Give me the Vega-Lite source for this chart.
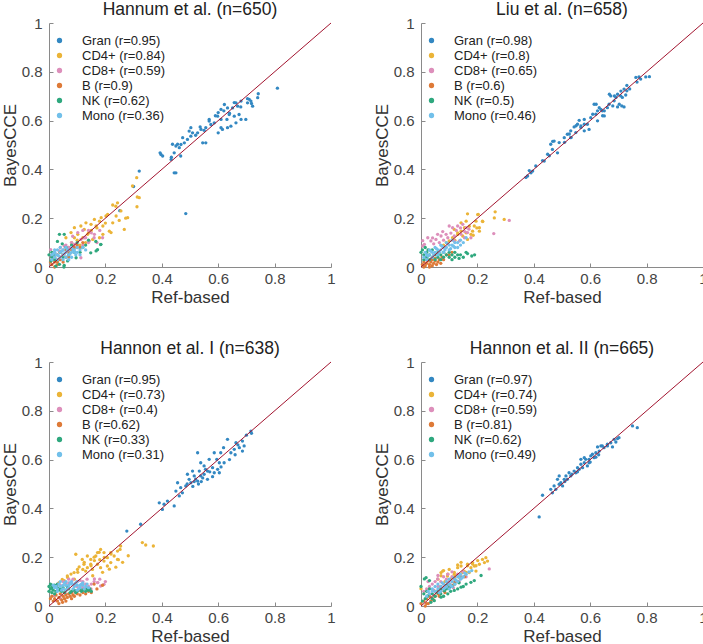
{
"$schema":"https://vega.github.io/schema/vega-lite/v6.json",
"padding":{"left":1,"top":0,"right":0,"bottom":0},
"background":"white",
"config":{"font":"Liberation Sans","view":{"stroke":null},
"axis":{"domainColor":"#8a8a8a","tickColor":"#8a8a8a","tickSize":-4,"grid":false,"labelFontSize":15,"labelColor":"#444444","titleFontSize":17,"titleFontWeight":"normal","titleColor":"#333333","labelFlush":false,"labelOverlap":false},
"legend":{"labelFontSize":13,"labelOffset":16,"symbolSize":28,"rowPadding":1,"labelColor":"#222222","symbolType":"circle","symbolStrokeWidth":0,"padding":0},
"title":{"fontSize":17.5,"fontWeight":"normal","color":"#222222","offset":-2}},
"datasets":{
"p1":[
{"t":"Gran","x":0.81,"y":0.733},{"t":"Gran","x":0.742,"y":0.71},{"t":"Gran","x":0.74,"y":0.694},{"t":"Gran","x":0.718,"y":0.67},{"t":"Gran","x":0.722,"y":0.659},{"t":"Gran","x":0.704,"y":0.69},{"t":"Gran","x":0.71,"y":0.687},{"t":"Gran","x":0.704,"y":0.673},{"t":"Gran","x":0.68,"y":0.656},{"t":"Gran","x":0.681,"y":0.68},{"t":"Gran","x":0.663,"y":0.673},{"t":"Gran","x":0.657,"y":0.674},{"t":"Gran","x":0.651,"y":0.652},{"t":"Gran","x":0.633,"y":0.652},{"t":"Gran","x":0.622,"y":0.666},{"t":"Gran","x":0.61,"y":0.646},{"t":"Gran","x":0.639,"y":0.625},{"t":"Gran","x":0.657,"y":0.618},{"t":"Gran","x":0.674,"y":0.625},{"t":"Gran","x":0.681,"y":0.605},{"t":"Gran","x":0.663,"y":0.591},{"t":"Gran","x":0.631,"y":0.605},{"t":"Gran","x":0.61,"y":0.605},{"t":"Gran","x":0.598,"y":0.618},{"t":"Gran","x":0.6,"y":0.633},{"t":"Gran","x":0.586,"y":0.591},{"t":"Gran","x":0.574,"y":0.584},{"t":"Gran","x":0.568,"y":0.598},{"t":"Gran","x":0.568,"y":0.605},{"t":"Gran","x":0.556,"y":0.571},{"t":"Gran","x":0.539,"y":0.564},{"t":"Gran","x":0.536,"y":0.574},{"t":"Gran","x":0.527,"y":0.55},{"t":"Gran","x":0.509,"y":0.55},{"t":"Gran","x":0.503,"y":0.571},{"t":"Gran","x":0.497,"y":0.557},{"t":"Gran","x":0.503,"y":0.536},{"t":"Gran","x":0.491,"y":0.523},{"t":"Gran","x":0.474,"y":0.53},{"t":"Gran","x":0.468,"y":0.502},{"t":"Gran","x":0.48,"y":0.509},{"t":"Gran","x":0.462,"y":0.489},{"t":"Gran","x":0.45,"y":0.496},{"t":"Gran","x":0.456,"y":0.503},{"t":"Gran","x":0.438,"y":0.503},{"t":"Gran","x":0.444,"y":0.468},{"t":"Gran","x":0.433,"y":0.441},{"t":"Gran","x":0.434,"y":0.45},{"t":"Gran","x":0.467,"y":0.455},{"t":"Gran","x":0.397,"y":0.461},{"t":"Gran","x":0.403,"y":0.455},{"t":"Gran","x":0.394,"y":0.468},{"t":"Gran","x":0.545,"y":0.509},{"t":"Gran","x":0.556,"y":0.509},{"t":"Gran","x":0.61,"y":0.571},{"t":"Gran","x":0.615,"y":0.564},{"t":"Gran","x":0.633,"y":0.571},{"t":"Gran","x":0.645,"y":0.577},{"t":"Gran","x":0.698,"y":0.605},{"t":"Gran","x":0.716,"y":0.68},{"t":"Gran","x":0.669,"y":0.659},{"t":"Gran","x":0.6,"y":0.55},{"t":"Gran","x":0.444,"y":0.386},{"t":"Gran","x":0.45,"y":0.386},{"t":"Gran","x":0.485,"y":0.219},{"t":"Gran","x":0.32,"y":0.393},{"t":"Gran","x":0.3,"y":0.33},{"t":"Gran","x":0.251,"y":0.231},{"t":"Gran","x":0.59,"y":0.62},{"t":"Gran","x":0.62,"y":0.64},{"t":"Gran","x":0.64,"y":0.63},{"t":"Gran","x":0.52,"y":0.54},{"t":"Gran","x":0.55,"y":0.56},
{"t":"CD4+","x":0.312,"y":0.247},{"t":"CD4+","x":0.226,"y":0.254},{"t":"CD4+","x":0.255,"y":0.23},{"t":"CD4+","x":0.202,"y":0.209},{"t":"CD4+","x":0.179,"y":0.188},{"t":"CD4+","x":0.149,"y":0.175},{"t":"CD4+","x":0.226,"y":0.181},{"t":"CD4+","x":0.249,"y":0.191},{"t":"CD4+","x":0.279,"y":0.202},{"t":"CD4+","x":0.267,"y":0.154},{"t":"CD4+","x":0.214,"y":0.147},{"t":"CD4+","x":0.191,"y":0.134},{"t":"CD4+","x":0.167,"y":0.168},{"t":"CD4+","x":0.125,"y":0.154},{"t":"CD4+","x":0.102,"y":0.134},{"t":"CD4+","x":0.09,"y":0.161},{"t":"CD4+","x":0.137,"y":0.134},{"t":"CD4+","x":0.161,"y":0.195},{"t":"CD4+","x":0.238,"y":0.209},{"t":"CD4+","x":0.208,"y":0.216},{"t":"CD4+","x":0.185,"y":0.202},{"t":"CD4+","x":0.131,"y":0.181},{"t":"CD4+","x":0.113,"y":0.168},{"t":"CD4+","x":0.078,"y":0.141},{"t":"CD4+","x":0.06,"y":0.12},{"t":"CD4+","x":0.191,"y":0.168},{"t":"CD4+","x":0.22,"y":0.141},{"t":"CD4+","x":0.179,"y":0.12},{"t":"CD4+","x":0.155,"y":0.113},{"t":"CD4+","x":0.296,"y":0.332},{"t":"CD4+","x":0.311,"y":0.366},{"t":"CD4+","x":0.32,"y":0.284},{"t":"CD4+","x":0.313,"y":0.287},{"t":"CD4+","x":0.243,"y":0.263},{"t":"CD4+","x":0.237,"y":0.249},{"t":"CD4+","x":0.272,"y":0.2},{"t":"CD4+","x":0.08,"y":0.1},{"t":"CD4+","x":0.1,"y":0.11},{"t":"CD4+","x":0.12,"y":0.12},{"t":"CD4+","x":0.14,"y":0.14},{"t":"CD4+","x":0.07,"y":0.08},{"t":"CD4+","x":0.11,"y":0.09},{"t":"CD4+","x":0.15,"y":0.15},{"t":"CD4+","x":0.17,"y":0.16},{"t":"CD4+","x":0.2,"y":0.18},{"t":"CD4+","x":0.13,"y":0.1},{"t":"CD4+","x":0.09,"y":0.12},
{"t":"CD8+","x":0.113,"y":0.038},{"t":"CD8+","x":0.072,"y":0.052},{"t":"CD8+","x":0.084,"y":0.126},{"t":"CD8+","x":0.102,"y":0.141},{"t":"CD8+","x":0.125,"y":0.12},{"t":"CD8+","x":0.143,"y":0.107},{"t":"CD8+","x":0.161,"y":0.134},{"t":"CD8+","x":0.113,"y":0.113},{"t":"CD8+","x":0.09,"y":0.093},{"t":"CD8+","x":0.054,"y":0.086},{"t":"CD8+","x":0.037,"y":0.066},{"t":"CD8+","x":0.007,"y":0.045},{"t":"CD8+","x":0.066,"y":0.079},{"t":"CD8+","x":0.006,"y":0.071},{"t":"CD8+","x":0.02,"y":0.06},{"t":"CD8+","x":0.05,"y":0.07},{"t":"CD8+","x":0.06,"y":0.09},{"t":"CD8+","x":0.08,"y":0.1},{"t":"CD8+","x":0.13,"y":0.12},{"t":"CD8+","x":0.15,"y":0.14},{"t":"CD8+","x":0.16,"y":0.12},{"t":"CD8+","x":0.14,"y":0.1},{"t":"CD8+","x":0.12,"y":0.09},{"t":"CD8+","x":0.1,"y":0.08},{"t":"CD8+","x":0.07,"y":0.08},{"t":"CD8+","x":0.17,"y":0.1},{"t":"CD8+","x":0.19,"y":0.12},{"t":"CD8+","x":0.18,"y":0.15},{"t":"CD8+","x":0.12,"y":0.15},{"t":"CD8+","x":0.14,"y":0.15},{"t":"CD8+","x":0.03,"y":0.05},{"t":"CD8+","x":0.04,"y":0.08},
{"t":"B","x":0.01,"y":0.01},{"t":"B","x":0.02,"y":0.02},{"t":"B","x":0.03,"y":0.02},{"t":"B","x":0.02,"y":0.04},{"t":"B","x":0.04,"y":0.03},{"t":"B","x":0.05,"y":0.05},{"t":"B","x":0.06,"y":0.04},{"t":"B","x":0.03,"y":0.05},{"t":"B","x":0.07,"y":0.06},{"t":"B","x":0.04,"y":0.06},{"t":"B","x":0.01,"y":0.03},{"t":"B","x":0.05,"y":0.02},{"t":"B","x":0.08,"y":0.07},{"t":"B","x":0.06,"y":0.07},{"t":"B","x":0.09,"y":0.08},{"t":"B","x":0.02,"y":0.0},{"t":"B","x":0.03,"y":0.01},{"t":"B","x":0.1,"y":0.09},{"t":"B","x":0.12,"y":0.1},{"t":"B","x":0.005,"y":0.02},{"t":"B","x":0.07,"y":0.04},{"t":"B","x":0.11,"y":0.08},
{"t":"NK","x":0.184,"y":0.093},{"t":"NK","x":0.167,"y":0.066},{"t":"NK","x":0.172,"y":0.071},{"t":"NK","x":0.148,"y":0.058},{"t":"NK","x":0.166,"y":0.105},{"t":"NK","x":0.183,"y":0.092},{"t":"NK","x":0.066,"y":0.025},{"t":"NK","x":0.037,"y":0.011},{"t":"NK","x":0.007,"y":0.025},{"t":"NK","x":0.054,"y":0.007},{"t":"NK","x":0.096,"y":0.038},{"t":"NK","x":0.054,"y":0.134},{"t":"NK","x":0.037,"y":0.134},{"t":"NK","x":0.03,"y":0.105},{"t":"NK","x":0.047,"y":0.095},{"t":"NK","x":0.024,"y":0.003},{"t":"NK","x":0.053,"y":0.0},{"t":"NK","x":0.01,"y":0.04},{"t":"NK","x":0.02,"y":0.05},{"t":"NK","x":0.03,"y":0.03},{"t":"NK","x":0.04,"y":0.06},{"t":"NK","x":0.06,"y":0.08},{"t":"NK","x":0.08,"y":0.09},{"t":"NK","x":0.1,"y":0.1},{"t":"NK","x":0.12,"y":0.08},{"t":"NK","x":0.07,"y":0.05},{"t":"NK","x":0.11,"y":0.06},{"t":"NK","x":0.13,"y":0.09},{"t":"NK","x":0.09,"y":0.06},{"t":"NK","x":0.01,"y":0.06},{"t":"NK","x":0.02,"y":0.03},{"t":"NK","x":0.05,"y":0.04},{"t":"NK","x":0.14,"y":0.11},{"t":"NK","x":0.0,"y":0.05},
{"t":"Mono","x":0.01,"y":0.05},{"t":"Mono","x":0.02,"y":0.06},{"t":"Mono","x":0.02,"y":0.04},{"t":"Mono","x":0.03,"y":0.05},{"t":"Mono","x":0.03,"y":0.07},{"t":"Mono","x":0.04,"y":0.04},{"t":"Mono","x":0.04,"y":0.06},{"t":"Mono","x":0.05,"y":0.05},{"t":"Mono","x":0.05,"y":0.07},{"t":"Mono","x":0.06,"y":0.04},{"t":"Mono","x":0.06,"y":0.06},{"t":"Mono","x":0.07,"y":0.05},{"t":"Mono","x":0.07,"y":0.07},{"t":"Mono","x":0.08,"y":0.06},{"t":"Mono","x":0.08,"y":0.04},{"t":"Mono","x":0.09,"y":0.06},{"t":"Mono","x":0.09,"y":0.07},{"t":"Mono","x":0.1,"y":0.06},{"t":"Mono","x":0.1,"y":0.08},{"t":"Mono","x":0.11,"y":0.07},{"t":"Mono","x":0.12,"y":0.08},{"t":"Mono","x":0.03,"y":0.03},{"t":"Mono","x":0.05,"y":0.03},{"t":"Mono","x":0.07,"y":0.03},{"t":"Mono","x":0.01,"y":0.03},{"t":"Mono","x":0.02,"y":0.07},{"t":"Mono","x":0.04,"y":0.08},{"t":"Mono","x":0.06,"y":0.08},{"t":"Mono","x":0.08,"y":0.08},{"t":"Mono","x":0.11,"y":0.05},{"t":"Mono","x":0.13,"y":0.07},{"t":"Mono","x":0.015,"y":0.055},{"t":"Mono","x":0.035,"y":0.045},{"t":"Mono","x":0.055,"y":0.055},{"t":"Mono","x":0.075,"y":0.055},{"t":"Mono","x":0.095,"y":0.05},{"t":"Mono","x":0.045,"y":0.065},{"t":"Mono","x":0.065,"y":0.07},{"t":"Mono","x":0.085,"y":0.07},{"t":"Mono","x":0.025,"y":0.05}
],
"p2":[
{"t":"Gran","x":0.797,"y":0.779},{"t":"Gran","x":0.779,"y":0.77},{"t":"Gran","x":0.773,"y":0.779},{"t":"Gran","x":0.762,"y":0.777},{"t":"Gran","x":0.766,"y":0.758},{"t":"Gran","x":0.73,"y":0.744},{"t":"Gran","x":0.73,"y":0.722},{"t":"Gran","x":0.709,"y":0.721},{"t":"Gran","x":0.708,"y":0.701},{"t":"Gran","x":0.697,"y":0.708},{"t":"Gran","x":0.686,"y":0.701},{"t":"Gran","x":0.673,"y":0.701},{"t":"Gran","x":0.668,"y":0.708},{"t":"Gran","x":0.685,"y":0.681},{"t":"Gran","x":0.703,"y":0.667},{"t":"Gran","x":0.712,"y":0.66},{"t":"Gran","x":0.72,"y":0.656},{"t":"Gran","x":0.697,"y":0.656},{"t":"Gran","x":0.661,"y":0.653},{"t":"Gran","x":0.643,"y":0.64},{"t":"Gran","x":0.65,"y":0.619},{"t":"Gran","x":0.626,"y":0.64},{"t":"Gran","x":0.62,"y":0.626},{"t":"Gran","x":0.602,"y":0.612},{"t":"Gran","x":0.614,"y":0.667},{"t":"Gran","x":0.621,"y":0.667},{"t":"Gran","x":0.632,"y":0.653},{"t":"Gran","x":0.638,"y":0.646},{"t":"Gran","x":0.609,"y":0.626},{"t":"Gran","x":0.644,"y":0.62},{"t":"Gran","x":0.59,"y":0.585},{"t":"Gran","x":0.579,"y":0.585},{"t":"Gran","x":0.567,"y":0.578},{"t":"Gran","x":0.555,"y":0.585},{"t":"Gran","x":0.561,"y":0.601},{"t":"Gran","x":0.55,"y":0.579},{"t":"Gran","x":0.567,"y":0.572},{"t":"Gran","x":0.543,"y":0.574},{"t":"Gran","x":0.531,"y":0.558},{"t":"Gran","x":0.526,"y":0.545},{"t":"Gran","x":0.532,"y":0.531},{"t":"Gran","x":0.519,"y":0.544},{"t":"Gran","x":0.508,"y":0.53},{"t":"Gran","x":0.509,"y":0.511},{"t":"Gran","x":0.49,"y":0.51},{"t":"Gran","x":0.484,"y":0.468},{"t":"Gran","x":0.46,"y":0.503},{"t":"Gran","x":0.467,"y":0.515},{"t":"Gran","x":0.466,"y":0.482},{"t":"Gran","x":0.449,"y":0.462},{"t":"Gran","x":0.455,"y":0.456},{"t":"Gran","x":0.437,"y":0.434},{"t":"Gran","x":0.431,"y":0.436},{"t":"Gran","x":0.407,"y":0.414},{"t":"Gran","x":0.396,"y":0.393},{"t":"Gran","x":0.384,"y":0.395},{"t":"Gran","x":0.378,"y":0.373},{"t":"Gran","x":0.372,"y":0.367},{"t":"Gran","x":0.39,"y":0.386},{"t":"Gran","x":0.472,"y":0.516},{"t":"Gran","x":0.579,"y":0.558},{"t":"Gran","x":0.596,"y":0.564},{"t":"Gran","x":0.626,"y":0.599},{"t":"Gran","x":0.65,"y":0.64},{"t":"Gran","x":0.667,"y":0.667},{"t":"Gran","x":0.714,"y":0.695},{"t":"Gran","x":0.726,"y":0.705},{"t":"Gran","x":0.691,"y":0.695},{"t":"Gran","x":0.72,"y":0.729},{"t":"Gran","x":0.531,"y":0.53},{"t":"Gran","x":0.549,"y":0.551},{"t":"Gran","x":0.579,"y":0.605},{"t":"Gran","x":0.81,"y":0.78},{"t":"Gran","x":0.68,"y":0.66},{"t":"Gran","x":0.74,"y":0.73},
{"t":"CD4+","x":0.263,"y":0.226},{"t":"CD4+","x":0.295,"y":0.195},{"t":"CD4+","x":0.26,"y":0.201},{"t":"CD4+","x":0.201,"y":0.215},{"t":"CD4+","x":0.165,"y":0.218},{"t":"CD4+","x":0.218,"y":0.188},{"t":"CD4+","x":0.198,"y":0.16},{"t":"CD4+","x":0.183,"y":0.147},{"t":"CD4+","x":0.207,"y":0.147},{"t":"CD4+","x":0.171,"y":0.167},{"t":"CD4+","x":0.142,"y":0.147},{"t":"CD4+","x":0.13,"y":0.133},{"t":"CD4+","x":0.203,"y":0.216},{"t":"CD4+","x":0.219,"y":0.186},{"t":"CD4+","x":0.189,"y":0.168},{"t":"CD4+","x":0.207,"y":0.161},{"t":"CD4+","x":0.154,"y":0.161},{"t":"CD4+","x":0.142,"y":0.181},{"t":"CD4+","x":0.16,"y":0.188},{"t":"CD4+","x":0.13,"y":0.14},{"t":"CD4+","x":0.118,"y":0.154},{"t":"CD4+","x":0.148,"y":0.127},{"t":"CD4+","x":0.177,"y":0.134},{"t":"CD4+","x":0.165,"y":0.113},{"t":"CD4+","x":0.112,"y":0.12},{"t":"CD4+","x":0.1,"y":0.107},{"t":"CD4+","x":0.195,"y":0.188},{"t":"CD4+","x":0.09,"y":0.1},{"t":"CD4+","x":0.08,"y":0.09},{"t":"CD4+","x":0.12,"y":0.11},{"t":"CD4+","x":0.16,"y":0.14},{"t":"CD4+","x":0.185,"y":0.13},
{"t":"CD8+","x":0.313,"y":0.191},{"t":"CD8+","x":0.258,"y":0.137},{"t":"CD8+","x":0.1,"y":0.168},{"t":"CD8+","x":0.112,"y":0.161},{"t":"CD8+","x":0.089,"y":0.134},{"t":"CD8+","x":0.071,"y":0.127},{"t":"CD8+","x":0.053,"y":0.113},{"t":"CD8+","x":0.035,"y":0.107},{"t":"CD8+","x":0.012,"y":0.093},{"t":"CD8+","x":0.006,"y":0.086},{"t":"CD8+","x":0.142,"y":0.134},{"t":"CD8+","x":0.154,"y":0.12},{"t":"CD8+","x":0.136,"y":0.107},{"t":"CD8+","x":0.118,"y":0.127},{"t":"CD8+","x":0.165,"y":0.141},{"t":"CD8+","x":0.177,"y":0.12},{"t":"CD8+","x":0.106,"y":0.139},{"t":"CD8+","x":0.077,"y":0.145},{"t":"CD8+","x":0.095,"y":0.12},{"t":"CD8+","x":0.059,"y":0.134},{"t":"CD8+","x":0.024,"y":0.12},{"t":"CD8+","x":0.118,"y":0.107},{"t":"CD8+","x":0.16,"y":0.161},{"t":"CD8+","x":0.148,"y":0.175},{"t":"CD8+","x":0.13,"y":0.168},{"t":"CD8+","x":0.006,"y":0.108},{"t":"CD8+","x":0.041,"y":0.119},{"t":"CD8+","x":0.125,"y":0.15},{"t":"CD8+","x":0.14,"y":0.16},{"t":"CD8+","x":0.155,"y":0.145},{"t":"CD8+","x":0.17,"y":0.155},{"t":"CD8+","x":0.08,"y":0.11},{"t":"CD8+","x":0.065,"y":0.1},{"t":"CD8+","x":0.045,"y":0.095},
{"t":"B","x":0.005,"y":0.01},{"t":"B","x":0.01,"y":0.02},{"t":"B","x":0.015,"y":0.005},{"t":"B","x":0.02,"y":0.015},{"t":"B","x":0.025,"y":0.025},{"t":"B","x":0.03,"y":0.01},{"t":"B","x":0.035,"y":0.02},{"t":"B","x":0.04,"y":0.005},{"t":"B","x":0.045,"y":0.015},{"t":"B","x":0.05,"y":0.025},{"t":"B","x":0.055,"y":0.01},{"t":"B","x":0.06,"y":0.02},{"t":"B","x":0.03,"y":0.0},{"t":"B","x":0.02,"y":0.03},{"t":"B","x":0.04,"y":0.03},{"t":"B","x":0.065,"y":0.03},{"t":"B","x":0.07,"y":0.015},{"t":"B","x":0.01,"y":0.0},{"t":"B","x":0.05,"y":0.035},{"t":"B","x":0.075,"y":0.04},{"t":"B","x":0.08,"y":0.03},{"t":"B","x":0.1,"y":0.05},{"t":"B","x":0.09,"y":0.05},{"t":"B","x":0.11,"y":0.06},
{"t":"NK","x":0.0,"y":0.06},{"t":"NK","x":0.005,"y":0.07},{"t":"NK","x":0.01,"y":0.05},{"t":"NK","x":0.01,"y":0.03},{"t":"NK","x":0.02,"y":0.06},{"t":"NK","x":0.02,"y":0.04},{"t":"NK","x":0.03,"y":0.05},{"t":"NK","x":0.03,"y":0.03},{"t":"NK","x":0.04,"y":0.04},{"t":"NK","x":0.05,"y":0.05},{"t":"NK","x":0.05,"y":0.03},{"t":"NK","x":0.06,"y":0.04},{"t":"NK","x":0.07,"y":0.05},{"t":"NK","x":0.08,"y":0.04},{"t":"NK","x":0.09,"y":0.05},{"t":"NK","x":0.1,"y":0.04},{"t":"NK","x":0.11,"y":0.05},{"t":"NK","x":0.12,"y":0.04},{"t":"NK","x":0.13,"y":0.05},{"t":"NK","x":0.14,"y":0.05},{"t":"NK","x":0.15,"y":0.04},{"t":"NK","x":0.16,"y":0.06},{"t":"NK","x":0.165,"y":0.055},{"t":"NK","x":0.18,"y":0.045},{"t":"NK","x":0.19,"y":0.05},{"t":"NK","x":0.06,"y":0.06},{"t":"NK","x":0.08,"y":0.06},{"t":"NK","x":0.1,"y":0.06},{"t":"NK","x":0.12,"y":0.06},{"t":"NK","x":0.015,"y":0.08},{"t":"NK","x":0.025,"y":0.07},{"t":"NK","x":0.04,"y":0.07},{"t":"NK","x":0.07,"y":0.03},{"t":"NK","x":0.11,"y":0.03},{"t":"NK","x":0.135,"y":0.035},
{"t":"Mono","x":0.01,"y":0.04},{"t":"Mono","x":0.02,"y":0.05},{"t":"Mono","x":0.03,"y":0.05},{"t":"Mono","x":0.04,"y":0.06},{"t":"Mono","x":0.05,"y":0.06},{"t":"Mono","x":0.06,"y":0.07},{"t":"Mono","x":0.07,"y":0.07},{"t":"Mono","x":0.08,"y":0.08},{"t":"Mono","x":0.09,"y":0.08},{"t":"Mono","x":0.1,"y":0.09},{"t":"Mono","x":0.11,"y":0.09},{"t":"Mono","x":0.12,"y":0.1},{"t":"Mono","x":0.13,"y":0.1},{"t":"Mono","x":0.14,"y":0.11},{"t":"Mono","x":0.03,"y":0.07},{"t":"Mono","x":0.05,"y":0.08},{"t":"Mono","x":0.07,"y":0.09},{"t":"Mono","x":0.09,"y":0.1},{"t":"Mono","x":0.11,"y":0.11},{"t":"Mono","x":0.04,"y":0.04},{"t":"Mono","x":0.06,"y":0.05},{"t":"Mono","x":0.08,"y":0.06},{"t":"Mono","x":0.1,"y":0.07},{"t":"Mono","x":0.12,"y":0.08},{"t":"Mono","x":0.14,"y":0.09},{"t":"Mono","x":0.02,"y":0.03},{"t":"Mono","x":0.015,"y":0.06},{"t":"Mono","x":0.035,"y":0.065},{"t":"Mono","x":0.055,"y":0.075},{"t":"Mono","x":0.075,"y":0.085},{"t":"Mono","x":0.095,"y":0.095},{"t":"Mono","x":0.115,"y":0.085},{"t":"Mono","x":0.13,"y":0.08},{"t":"Mono","x":0.15,"y":0.1},{"t":"Mono","x":0.025,"y":0.045},{"t":"Mono","x":0.045,"y":0.05},{"t":"Mono","x":0.065,"y":0.06},{"t":"Mono","x":0.085,"y":0.07},{"t":"Mono","x":0.105,"y":0.075},{"t":"Mono","x":0.16,"y":0.12}
],
"p3":[
{"t":"Gran","x":0.716,"y":0.717},{"t":"Gran","x":0.718,"y":0.708},{"t":"Gran","x":0.686,"y":0.676},{"t":"Gran","x":0.692,"y":0.656},{"t":"Gran","x":0.686,"y":0.635},{"t":"Gran","x":0.663,"y":0.669},{"t":"Gran","x":0.633,"y":0.683},{"t":"Gran","x":0.619,"y":0.649},{"t":"Gran","x":0.609,"y":0.628},{"t":"Gran","x":0.595,"y":0.601},{"t":"Gran","x":0.586,"y":0.628},{"t":"Gran","x":0.568,"y":0.601},{"t":"Gran","x":0.55,"y":0.574},{"t":"Gran","x":0.538,"y":0.587},{"t":"Gran","x":0.527,"y":0.628},{"t":"Gran","x":0.562,"y":0.553},{"t":"Gran","x":0.598,"y":0.56},{"t":"Gran","x":0.604,"y":0.546},{"t":"Gran","x":0.509,"y":0.553},{"t":"Gran","x":0.491,"y":0.54},{"t":"Gran","x":0.515,"y":0.533},{"t":"Gran","x":0.527,"y":0.512},{"t":"Gran","x":0.503,"y":0.505},{"t":"Gran","x":0.485,"y":0.492},{"t":"Gran","x":0.467,"y":0.485},{"t":"Gran","x":0.456,"y":0.505},{"t":"Gran","x":0.473,"y":0.464},{"t":"Gran","x":0.45,"y":0.471},{"t":"Gran","x":0.462,"y":0.451},{"t":"Gran","x":0.42,"y":0.43},{"t":"Gran","x":0.408,"y":0.417},{"t":"Gran","x":0.391,"y":0.423},{"t":"Gran","x":0.402,"y":0.396},{"t":"Gran","x":0.444,"y":0.41},{"t":"Gran","x":0.325,"y":0.335},{"t":"Gran","x":0.276,"y":0.307},{"t":"Gran","x":0.538,"y":0.533},{"t":"Gran","x":0.58,"y":0.567},{"t":"Gran","x":0.621,"y":0.587},{"t":"Gran","x":0.645,"y":0.628},{"t":"Gran","x":0.657,"y":0.642},{"t":"Gran","x":0.675,"y":0.649},{"t":"Gran","x":0.604,"y":0.587},{"t":"Gran","x":0.55,"y":0.54},{"t":"Gran","x":0.497,"y":0.519},{"t":"Gran","x":0.562,"y":0.519},{"t":"Gran","x":0.586,"y":0.546},{"t":"Gran","x":0.533,"y":0.553},{"t":"Gran","x":0.52,"y":0.52},{"t":"Gran","x":0.54,"y":0.51},{"t":"Gran","x":0.57,"y":0.55},{"t":"Gran","x":0.58,"y":0.53},{"t":"Gran","x":0.51,"y":0.49},{"t":"Gran","x":0.49,"y":0.5},{"t":"Gran","x":0.53,"y":0.5},{"t":"Gran","x":0.555,"y":0.56},{"t":"Gran","x":0.61,"y":0.57},{"t":"Gran","x":0.64,"y":0.6},{"t":"Gran","x":0.66,"y":0.62},{"t":"Gran","x":0.7,"y":0.7},{"t":"Gran","x":0.67,"y":0.66},{"t":"Gran","x":0.545,"y":0.525},{"t":"Gran","x":0.515,"y":0.51},
{"t":"CD4+","x":0.37,"y":0.246},{"t":"CD4+","x":0.331,"y":0.26},{"t":"CD4+","x":0.343,"y":0.25},{"t":"CD4+","x":0.254,"y":0.246},{"t":"CD4+","x":0.252,"y":0.232},{"t":"CD4+","x":0.219,"y":0.219},{"t":"CD4+","x":0.231,"y":0.205},{"t":"CD4+","x":0.243,"y":0.191},{"t":"CD4+","x":0.183,"y":0.232},{"t":"CD4+","x":0.195,"y":0.219},{"t":"CD4+","x":0.166,"y":0.205},{"t":"CD4+","x":0.148,"y":0.191},{"t":"CD4+","x":0.148,"y":0.171},{"t":"CD4+","x":0.124,"y":0.171},{"t":"CD4+","x":0.095,"y":0.212},{"t":"CD4+","x":0.107,"y":0.16},{"t":"CD4+","x":0.13,"y":0.143},{"t":"CD4+","x":0.089,"y":0.137},{"t":"CD4+","x":0.065,"y":0.123},{"t":"CD4+","x":0.047,"y":0.109},{"t":"CD4+","x":0.036,"y":0.096},{"t":"CD4+","x":0.172,"y":0.171},{"t":"CD4+","x":0.183,"y":0.157},{"t":"CD4+","x":0.207,"y":0.164},{"t":"CD4+","x":0.219,"y":0.178},{"t":"CD4+","x":0.136,"y":0.205},{"t":"CD4+","x":0.118,"y":0.191},{"t":"CD4+","x":0.136,"y":0.157},{"t":"CD4+","x":0.101,"y":0.15},{"t":"CD4+","x":0.154,"y":0.15},{"t":"CD4+","x":0.195,"y":0.184},{"t":"CD4+","x":0.207,"y":0.198},{"t":"CD4+","x":0.172,"y":0.219},{"t":"CD4+","x":0.243,"y":0.225},{"t":"CD4+","x":0.281,"y":0.206},{"t":"CD4+","x":0.246,"y":0.19},{"t":"CD4+","x":0.22,"y":0.213},{"t":"CD4+","x":0.196,"y":0.199},{"t":"CD4+","x":0.178,"y":0.22},{"t":"CD4+","x":0.161,"y":0.186},{"t":"CD4+","x":0.149,"y":0.165},{"t":"CD4+","x":0.125,"y":0.179},{"t":"CD4+","x":0.102,"y":0.138},{"t":"CD4+","x":0.078,"y":0.131},{"t":"CD4+","x":0.066,"y":0.117},{"t":"CD4+","x":0.054,"y":0.104},{"t":"CD4+","x":0.155,"y":0.124},{"t":"CD4+","x":0.19,"y":0.138},{"t":"CD4+","x":0.214,"y":0.151},{"t":"CD4+","x":0.237,"y":0.159},{"t":"CD4+","x":0.261,"y":0.179},{"t":"CD4+","x":0.16,"y":0.2},{"t":"CD4+","x":0.12,"y":0.15},{"t":"CD4+","x":0.09,"y":0.11},{"t":"CD4+","x":0.18,"y":0.19},
{"t":"CD8+","x":0.183,"y":0.082},{"t":"CD8+","x":0.195,"y":0.089},{"t":"CD8+","x":0.172,"y":0.096},{"t":"CD8+","x":0.16,"y":0.1},{"t":"CD8+","x":0.149,"y":0.07},{"t":"CD8+","x":0.161,"y":0.111},{"t":"CD8+","x":0.173,"y":0.096},{"t":"CD8+","x":0.14,"y":0.08},{"t":"CD8+","x":0.13,"y":0.09},{"t":"CD8+","x":0.12,"y":0.1},{"t":"CD8+","x":0.11,"y":0.105},{"t":"CD8+","x":0.1,"y":0.1},{"t":"CD8+","x":0.09,"y":0.09},{"t":"CD8+","x":0.08,"y":0.1},{"t":"CD8+","x":0.07,"y":0.095},{"t":"CD8+","x":0.06,"y":0.09},{"t":"CD8+","x":0.05,"y":0.1},{"t":"CD8+","x":0.04,"y":0.085},{"t":"CD8+","x":0.03,"y":0.09},{"t":"CD8+","x":0.02,"y":0.08},{"t":"CD8+","x":0.019,"y":0.043},{"t":"CD8+","x":0.025,"y":0.022},{"t":"CD8+","x":0.04,"y":0.03},{"t":"CD8+","x":0.06,"y":0.05},{"t":"CD8+","x":0.1,"y":0.08},{"t":"CD8+","x":0.12,"y":0.075},{"t":"CD8+","x":0.15,"y":0.09},{"t":"CD8+","x":0.135,"y":0.11},{"t":"CD8+","x":0.115,"y":0.085},{"t":"CD8+","x":0.085,"y":0.11},{"t":"CD8+","x":0.07,"y":0.11},{"t":"CD8+","x":0.2,"y":0.1},{"t":"CD8+","x":0.18,"y":0.11},{"t":"CD8+","x":0.09,"y":0.06},
{"t":"B","x":0.005,"y":0.03},{"t":"B","x":0.01,"y":0.04},{"t":"B","x":0.015,"y":0.02},{"t":"B","x":0.02,"y":0.03},{"t":"B","x":0.025,"y":0.045},{"t":"B","x":0.03,"y":0.02},{"t":"B","x":0.035,"y":0.035},{"t":"B","x":0.04,"y":0.05},{"t":"B","x":0.045,"y":0.025},{"t":"B","x":0.05,"y":0.04},{"t":"B","x":0.055,"y":0.03},{"t":"B","x":0.06,"y":0.045},{"t":"B","x":0.065,"y":0.035},{"t":"B","x":0.07,"y":0.05},{"t":"B","x":0.075,"y":0.04},{"t":"B","x":0.08,"y":0.055},{"t":"B","x":0.085,"y":0.045},{"t":"B","x":0.09,"y":0.04},{"t":"B","x":0.095,"y":0.055},{"t":"B","x":0.1,"y":0.05},{"t":"B","x":0.11,"y":0.045},{"t":"B","x":0.12,"y":0.055},{"t":"B","x":0.13,"y":0.05},{"t":"B","x":0.14,"y":0.06},{"t":"B","x":0.15,"y":0.055},{"t":"B","x":0.048,"y":0.015},{"t":"B","x":0.035,"y":0.01},{"t":"B","x":0.06,"y":0.02},{"t":"B","x":0.08,"y":0.03},{"t":"B","x":0.11,"y":0.065},{"t":"B","x":0.13,"y":0.07},{"t":"B","x":0.17,"y":0.07},{"t":"B","x":0.19,"y":0.085},{"t":"B","x":0.16,"y":0.09},
{"t":"NK","x":0.0,"y":0.06},{"t":"NK","x":0.0,"y":0.08},{"t":"NK","x":0.005,"y":0.07},{"t":"NK","x":0.005,"y":0.09},{"t":"NK","x":0.01,"y":0.055},{"t":"NK","x":0.01,"y":0.075},{"t":"NK","x":0.015,"y":0.065},{"t":"NK","x":0.02,"y":0.085},{"t":"NK","x":0.025,"y":0.06},{"t":"NK","x":0.03,"y":0.075},{"t":"NK","x":0.035,"y":0.065},{"t":"NK","x":0.04,"y":0.07},{"t":"NK","x":0.045,"y":0.06},{"t":"NK","x":0.05,"y":0.075},{"t":"NK","x":0.06,"y":0.065},{"t":"NK","x":0.07,"y":0.07},{"t":"NK","x":0.08,"y":0.06},{"t":"NK","x":0.09,"y":0.065},{"t":"NK","x":0.1,"y":0.06},{"t":"NK","x":0.11,"y":0.07},{"t":"NK","x":0.12,"y":0.065},{"t":"NK","x":0.13,"y":0.06},{"t":"NK","x":0.14,"y":0.065},{"t":"NK","x":0.15,"y":0.06},{"t":"NK","x":0.145,"y":0.07},{"t":"NK","x":0.02,"y":0.05},{"t":"NK","x":0.03,"y":0.09},{"t":"NK","x":0.01,"y":0.085},{"t":"NK","x":0.055,"y":0.055},{"t":"NK","x":0.075,"y":0.055},{"t":"NK","x":0.095,"y":0.055},{"t":"NK","x":0.115,"y":0.06},{"t":"NK","x":0.135,"y":0.07},{"t":"NK","x":0.065,"y":0.08},
{"t":"Mono","x":0.03,"y":0.07},{"t":"Mono","x":0.04,"y":0.08},{"t":"Mono","x":0.05,"y":0.07},{"t":"Mono","x":0.06,"y":0.085},{"t":"Mono","x":0.07,"y":0.075},{"t":"Mono","x":0.08,"y":0.09},{"t":"Mono","x":0.09,"y":0.08},{"t":"Mono","x":0.1,"y":0.085},{"t":"Mono","x":0.11,"y":0.075},{"t":"Mono","x":0.12,"y":0.085},{"t":"Mono","x":0.13,"y":0.08},{"t":"Mono","x":0.035,"y":0.09},{"t":"Mono","x":0.045,"y":0.065},{"t":"Mono","x":0.055,"y":0.095},{"t":"Mono","x":0.065,"y":0.07},{"t":"Mono","x":0.075,"y":0.095},{"t":"Mono","x":0.085,"y":0.07},{"t":"Mono","x":0.095,"y":0.095},{"t":"Mono","x":0.105,"y":0.07},{"t":"Mono","x":0.115,"y":0.09},{"t":"Mono","x":0.125,"y":0.07},{"t":"Mono","x":0.04,"y":0.1},{"t":"Mono","x":0.06,"y":0.1},{"t":"Mono","x":0.08,"y":0.1},{"t":"Mono","x":0.1,"y":0.1},{"t":"Mono","x":0.12,"y":0.095},{"t":"Mono","x":0.025,"y":0.08},{"t":"Mono","x":0.14,"y":0.075},{"t":"Mono","x":0.05,"y":0.085},{"t":"Mono","x":0.07,"y":0.085},{"t":"Mono","x":0.09,"y":0.09},{"t":"Mono","x":0.11,"y":0.085},{"t":"Mono","x":0.03,"y":0.06},{"t":"Mono","x":0.06,"y":0.065},{"t":"Mono","x":0.1,"y":0.065},{"t":"Mono","x":0.02,"y":0.075},{"t":"Mono","x":0.135,"y":0.09},{"t":"Mono","x":0.015,"y":0.085}
],
"p4":[
{"t":"Gran","x":0.767,"y":0.731},{"t":"Gran","x":0.75,"y":0.738},{"t":"Gran","x":0.697,"y":0.686},{"t":"Gran","x":0.691,"y":0.672},{"t":"Gran","x":0.673,"y":0.669},{"t":"Gran","x":0.679,"y":0.652},{"t":"Gran","x":0.661,"y":0.656},{"t":"Gran","x":0.649,"y":0.649},{"t":"Gran","x":0.638,"y":0.656},{"t":"Gran","x":0.626,"y":0.652},{"t":"Gran","x":0.632,"y":0.635},{"t":"Gran","x":0.62,"y":0.628},{"t":"Gran","x":0.608,"y":0.622},{"t":"Gran","x":0.614,"y":0.608},{"t":"Gran","x":0.596,"y":0.601},{"t":"Gran","x":0.584,"y":0.601},{"t":"Gran","x":0.579,"y":0.587},{"t":"Gran","x":0.59,"y":0.574},{"t":"Gran","x":0.567,"y":0.581},{"t":"Gran","x":0.555,"y":0.567},{"t":"Gran","x":0.543,"y":0.553},{"t":"Gran","x":0.525,"y":0.546},{"t":"Gran","x":0.514,"y":0.533},{"t":"Gran","x":0.508,"y":0.519},{"t":"Gran","x":0.49,"y":0.533},{"t":"Gran","x":0.484,"y":0.519},{"t":"Gran","x":0.496,"y":0.505},{"t":"Gran","x":0.472,"y":0.492},{"t":"Gran","x":0.46,"y":0.478},{"t":"Gran","x":0.466,"y":0.464},{"t":"Gran","x":0.431,"y":0.454},{"t":"Gran","x":0.419,"y":0.365},{"t":"Gran","x":0.519,"y":0.519},{"t":"Gran","x":0.531,"y":0.533},{"t":"Gran","x":0.549,"y":0.546},{"t":"Gran","x":0.561,"y":0.56},{"t":"Gran","x":0.573,"y":0.567},{"t":"Gran","x":0.602,"y":0.615},{"t":"Gran","x":0.643,"y":0.656},{"t":"Gran","x":0.661,"y":0.663},{"t":"Gran","x":0.685,"y":0.683},{"t":"Gran","x":0.702,"y":0.69},{"t":"Gran","x":0.567,"y":0.601},{"t":"Gran","x":0.579,"y":0.608},{"t":"Gran","x":0.596,"y":0.587},{"t":"Gran","x":0.502,"y":0.492},{"t":"Gran","x":0.478,"y":0.478},{"t":"Gran","x":0.49,"y":0.499},{"t":"Gran","x":0.62,"y":0.61},{"t":"Gran","x":0.6,"y":0.59},{"t":"Gran","x":0.535,"y":0.54},{"t":"Gran","x":0.555,"y":0.55},{"t":"Gran","x":0.51,"y":0.51},{"t":"Gran","x":0.63,"y":0.62},
{"t":"CD4+","x":0.23,"y":0.198},{"t":"CD4+","x":0.236,"y":0.184},{"t":"CD4+","x":0.218,"y":0.191},{"t":"CD4+","x":0.207,"y":0.171},{"t":"CD4+","x":0.189,"y":0.164},{"t":"CD4+","x":0.177,"y":0.157},{"t":"CD4+","x":0.165,"y":0.171},{"t":"CD4+","x":0.142,"y":0.164},{"t":"CD4+","x":0.13,"y":0.157},{"t":"CD4+","x":0.1,"y":0.15},{"t":"CD4+","x":0.077,"y":0.143},{"t":"CD4+","x":0.071,"y":0.137},{"t":"CD4+","x":0.0,"y":0.071},{"t":"CD4+","x":0.094,"y":0.123},{"t":"CD4+","x":0.118,"y":0.13},{"t":"CD4+","x":0.153,"y":0.143},{"t":"CD4+","x":0.171,"y":0.137},{"t":"CD4+","x":0.195,"y":0.143},{"t":"CD4+","x":0.183,"y":0.178},{"t":"CD4+","x":0.148,"y":0.137},{"t":"CD4+","x":0.225,"y":0.178},{"t":"CD4+","x":0.195,"y":0.165},{"t":"CD4+","x":0.183,"y":0.172},{"t":"CD4+","x":0.142,"y":0.179},{"t":"CD4+","x":0.13,"y":0.168},{"t":"CD4+","x":0.16,"y":0.138},{"t":"CD4+","x":0.08,"y":0.145},{"t":"CD4+","x":0.095,"y":0.131},{"t":"CD4+","x":0.118,"y":0.138},{"t":"CD4+","x":0.136,"y":0.117},{"t":"CD4+","x":0.106,"y":0.111},{"t":"CD4+","x":0.071,"y":0.124},{"t":"CD4+","x":0.165,"y":0.165},{"t":"CD4+","x":0.201,"y":0.186},{"t":"CD4+","x":0.12,"y":0.12},{"t":"CD4+","x":0.085,"y":0.1},{"t":"CD4+","x":0.06,"y":0.11},
{"t":"CD8+","x":0.242,"y":0.152},{"t":"CD8+","x":0.059,"y":0.111},{"t":"CD8+","x":0.05,"y":0.1},{"t":"CD8+","x":0.04,"y":0.09},{"t":"CD8+","x":0.03,"y":0.08},{"t":"CD8+","x":0.02,"y":0.07},{"t":"CD8+","x":0.07,"y":0.1},{"t":"CD8+","x":0.08,"y":0.09},{"t":"CD8+","x":0.09,"y":0.11},{"t":"CD8+","x":0.1,"y":0.1},{"t":"CD8+","x":0.11,"y":0.12},{"t":"CD8+","x":0.12,"y":0.11},{"t":"CD8+","x":0.13,"y":0.13},{"t":"CD8+","x":0.14,"y":0.12},{"t":"CD8+","x":0.06,"y":0.08},{"t":"CD8+","x":0.1,"y":0.08},{"t":"CD8+","x":0.12,"y":0.095},{"t":"CD8+","x":0.08,"y":0.12},{"t":"CD8+","x":0.15,"y":0.14},{"t":"CD8+","x":0.07,"y":0.06},{"t":"CD8+","x":0.16,"y":0.12},{"t":"CD8+","x":0.01,"y":0.06},{"t":"CD8+","x":0.045,"y":0.065},{"t":"CD8+","x":0.095,"y":0.13},{"t":"CD8+","x":0.135,"y":0.1},{"t":"CD8+","x":0.115,"y":0.075},{"t":"CD8+","x":0.11,"y":0.14},{"t":"CD8+","x":0.025,"y":0.1},{"t":"CD8+","x":0.03,"y":0.05},{"t":"CD8+","x":0.06,"y":0.125},
{"t":"B","x":0.01,"y":0.02},{"t":"B","x":0.02,"y":0.01},{"t":"B","x":0.026,"y":0.01},{"t":"B","x":0.035,"y":0.02},{"t":"B","x":0.04,"y":0.03},{"t":"B","x":0.05,"y":0.04},{"t":"B","x":0.06,"y":0.05},{"t":"B","x":0.07,"y":0.06},{"t":"B","x":0.08,"y":0.07},{"t":"B","x":0.09,"y":0.08},{"t":"B","x":0.1,"y":0.09},{"t":"B","x":0.12,"y":0.1},{"t":"B","x":0.14,"y":0.12},{"t":"B","x":0.03,"y":0.04},{"t":"B","x":0.05,"y":0.06},{"t":"B","x":0.07,"y":0.08},{"t":"B","x":0.045,"y":0.025},{"t":"B","x":0.065,"y":0.04},{"t":"B","x":0.085,"y":0.055},{"t":"B","x":0.11,"y":0.085},{"t":"B","x":0.02,"y":0.03},{"t":"B","x":0.0,"y":0.01},{"t":"B","x":0.015,"y":0.0},{"t":"B","x":0.13,"y":0.1},{"t":"B","x":0.155,"y":0.12},
{"t":"NK","x":0.012,"y":0.111},{"t":"NK","x":0.018,"y":0.116},{"t":"NK","x":0.03,"y":0.104},{"t":"NK","x":0.213,"y":0.125},{"t":"NK","x":0.189,"y":0.104},{"t":"NK","x":0.177,"y":0.097},{"t":"NK","x":0.16,"y":0.09},{"t":"NK","x":0.15,"y":0.08},{"t":"NK","x":0.142,"y":0.077},{"t":"NK","x":0.13,"y":0.07},{"t":"NK","x":0.118,"y":0.064},{"t":"NK","x":0.105,"y":0.06},{"t":"NK","x":0.095,"y":0.05},{"t":"NK","x":0.083,"y":0.062},{"t":"NK","x":0.071,"y":0.036},{"t":"NK","x":0.059,"y":0.055},{"t":"NK","x":0.047,"y":0.022},{"t":"NK","x":0.035,"y":0.015},{"t":"NK","x":0.024,"y":0.041},{"t":"NK","x":0.01,"y":0.05},{"t":"NK","x":0.02,"y":0.06},{"t":"NK","x":0.03,"y":0.07},{"t":"NK","x":0.04,"y":0.05},{"t":"NK","x":0.05,"y":0.04},{"t":"NK","x":0.06,"y":0.06},{"t":"NK","x":0.07,"y":0.05},{"t":"NK","x":0.08,"y":0.04},{"t":"NK","x":0.09,"y":0.07},{"t":"NK","x":0.1,"y":0.075},{"t":"NK","x":0.11,"y":0.08},{"t":"NK","x":0.12,"y":0.09},{"t":"NK","x":0.135,"y":0.095},{"t":"NK","x":0.0,"y":0.08},{"t":"NK","x":0.015,"y":0.03},{"t":"NK","x":0.005,"y":0.02},{"t":"NK","x":0.04,"y":0.03},{"t":"NK","x":0.07,"y":0.07},{"t":"NK","x":0.09,"y":0.085},
{"t":"Mono","x":0.03,"y":0.05},{"t":"Mono","x":0.04,"y":0.06},{"t":"Mono","x":0.05,"y":0.06},{"t":"Mono","x":0.05,"y":0.08},{"t":"Mono","x":0.06,"y":0.07},{"t":"Mono","x":0.07,"y":0.08},{"t":"Mono","x":0.07,"y":0.06},{"t":"Mono","x":0.08,"y":0.09},{"t":"Mono","x":0.08,"y":0.07},{"t":"Mono","x":0.09,"y":0.08},{"t":"Mono","x":0.09,"y":0.1},{"t":"Mono","x":0.1,"y":0.09},{"t":"Mono","x":0.1,"y":0.11},{"t":"Mono","x":0.11,"y":0.1},{"t":"Mono","x":0.11,"y":0.08},{"t":"Mono","x":0.12,"y":0.11},{"t":"Mono","x":0.12,"y":0.09},{"t":"Mono","x":0.13,"y":0.12},{"t":"Mono","x":0.13,"y":0.1},{"t":"Mono","x":0.14,"y":0.11},{"t":"Mono","x":0.14,"y":0.13},{"t":"Mono","x":0.15,"y":0.12},{"t":"Mono","x":0.16,"y":0.13},{"t":"Mono","x":0.17,"y":0.14},{"t":"Mono","x":0.06,"y":0.09},{"t":"Mono","x":0.04,"y":0.07},{"t":"Mono","x":0.065,"y":0.055},{"t":"Mono","x":0.085,"y":0.075},{"t":"Mono","x":0.105,"y":0.085},{"t":"Mono","x":0.125,"y":0.105},{"t":"Mono","x":0.145,"y":0.115},{"t":"Mono","x":0.075,"y":0.095},{"t":"Mono","x":0.095,"y":0.095},{"t":"Mono","x":0.115,"y":0.115},{"t":"Mono","x":0.135,"y":0.12},{"t":"Mono","x":0.155,"y":0.135},{"t":"Mono","x":0.02,"y":0.04},{"t":"Mono","x":0.025,"y":0.06},{"t":"Mono","x":0.18,"y":0.145},{"t":"Mono","x":0.1,"y":0.07}
],
"diag":[{"x":0,"y":0},{"x":1,"y":1}]
},
"columns":2,
"spacing":{"column":37,"row":34},
"resolve":{"scale":{"color":"independent"},"legend":{"color":"independent"}},
"concat":[
{"width":282,"height":244,"title":"Hannum et al. (n=650)",
"layer":[
{"data":{"name":"p1"},"mark":{"type":"circle","size":11,"opacity":1},
"encoding":{"x":{"field":"x","type":"quantitative","scale":{"domain":[0,1]},"axis":{"title":"Ref-based","values":[0,0.2,0.4,0.6,0.8,1],"format":"~g","labelPadding":8,"titlePadding":3}},
"y":{"field":"y","type":"quantitative","scale":{"domain":[0,1]},"axis":{"title":"BayesCCE","values":[0,0.2,0.4,0.6,0.8,1],"format":"~g","labelPadding":11,"titlePadding":2}},
"color":{"field":"t","type":"nominal","scale":{"domain":["Gran","CD4+","CD8+","B","NK","Mono"],"range":["#3388c2","#ebb438","#dd8fbb","#de7a38","#2fa87e","#72c0ea"]},"legend":{"title":null,"orient":"none","legendX":4,"legendY":11,"labelExpr":"{'Gran':'Gran (r=0.95)','CD4+':'CD4+ (r=0.84)','CD8+':'CD8+ (r=0.59)','B':'B (r=0.9)','NK':'NK (r=0.62)','Mono':'Mono (r=0.36)'}[datum.label]"}}}},
{"data":{"name":"diag"},"mark":{"type":"line","color":"#a2142f","strokeWidth":1},"encoding":{"x":{"field":"x","type":"quantitative"},"y":{"field":"y","type":"quantitative"}}}
]},
{"width":282,"height":244,"title":"Liu et al. (n=658)",
"layer":[
{"data":{"name":"p2"},"mark":{"type":"circle","size":11,"opacity":1},
"encoding":{"x":{"field":"x","type":"quantitative","scale":{"domain":[0,1]},"axis":{"title":"Ref-based","values":[0,0.2,0.4,0.6,0.8,1],"format":"~g","labelPadding":8,"titlePadding":3}},
"y":{"field":"y","type":"quantitative","scale":{"domain":[0,1]},"axis":{"title":"BayesCCE","values":[0,0.2,0.4,0.6,0.8,1],"format":"~g","labelPadding":11,"titlePadding":2}},
"color":{"field":"t","type":"nominal","scale":{"domain":["Gran","CD4+","CD8+","B","NK","Mono"],"range":["#3388c2","#ebb438","#dd8fbb","#de7a38","#2fa87e","#72c0ea"]},"legend":{"title":null,"orient":"none","legendX":4,"legendY":11,"labelExpr":"{'Gran':'Gran (r=0.98)','CD4+':'CD4+ (r=0.8)','CD8+':'CD8+ (r=0.65)','B':'B (r=0.6)','NK':'NK (r=0.5)','Mono':'Mono (r=0.46)'}[datum.label]"}}}},
{"data":{"name":"diag"},"mark":{"type":"line","color":"#a2142f","strokeWidth":1},"encoding":{"x":{"field":"x","type":"quantitative"},"y":{"field":"y","type":"quantitative"}}}
]},
{"width":282,"height":244,"title":"Hannon et al. I (n=638)",
"layer":[
{"data":{"name":"p3"},"mark":{"type":"circle","size":11,"opacity":1},
"encoding":{"x":{"field":"x","type":"quantitative","scale":{"domain":[0,1]},"axis":{"title":"Ref-based","values":[0,0.2,0.4,0.6,0.8,1],"format":"~g","labelPadding":8,"titlePadding":3}},
"y":{"field":"y","type":"quantitative","scale":{"domain":[0,1]},"axis":{"title":"BayesCCE","values":[0,0.2,0.4,0.6,0.8,1],"format":"~g","labelPadding":11,"titlePadding":2}},
"color":{"field":"t","type":"nominal","scale":{"domain":["Gran","CD4+","CD8+","B","NK","Mono"],"range":["#3388c2","#ebb438","#dd8fbb","#de7a38","#2fa87e","#72c0ea"]},"legend":{"title":null,"orient":"none","legendX":4,"legendY":11,"labelExpr":"{'Gran':'Gran (r=0.95)','CD4+':'CD4+ (r=0.73)','CD8+':'CD8+ (r=0.4)','B':'B (r=0.62)','NK':'NK (r=0.33)','Mono':'Mono (r=0.31)'}[datum.label]"}}}},
{"data":{"name":"diag"},"mark":{"type":"line","color":"#a2142f","strokeWidth":1},"encoding":{"x":{"field":"x","type":"quantitative"},"y":{"field":"y","type":"quantitative"}}}
]},
{"width":282,"height":244,"title":"Hannon et al. II (n=665)",
"layer":[
{"data":{"name":"p4"},"mark":{"type":"circle","size":11,"opacity":1},
"encoding":{"x":{"field":"x","type":"quantitative","scale":{"domain":[0,1]},"axis":{"title":"Ref-based","values":[0,0.2,0.4,0.6,0.8,1],"format":"~g","labelPadding":8,"titlePadding":3}},
"y":{"field":"y","type":"quantitative","scale":{"domain":[0,1]},"axis":{"title":"BayesCCE","values":[0,0.2,0.4,0.6,0.8,1],"format":"~g","labelPadding":11,"titlePadding":2}},
"color":{"field":"t","type":"nominal","scale":{"domain":["Gran","CD4+","CD8+","B","NK","Mono"],"range":["#3388c2","#ebb438","#dd8fbb","#de7a38","#2fa87e","#72c0ea"]},"legend":{"title":null,"orient":"none","legendX":4,"legendY":11,"labelExpr":"{'Gran':'Gran (r=0.97)','CD4+':'CD4+ (r=0.74)','CD8+':'CD8+ (r=0.59)','B':'B (r=0.81)','NK':'NK (r=0.62)','Mono':'Mono (r=0.49)'}[datum.label]"}}}},
{"data":{"name":"diag"},"mark":{"type":"line","color":"#a2142f","strokeWidth":1},"encoding":{"x":{"field":"x","type":"quantitative"},"y":{"field":"y","type":"quantitative"}}}
]}
]
}
